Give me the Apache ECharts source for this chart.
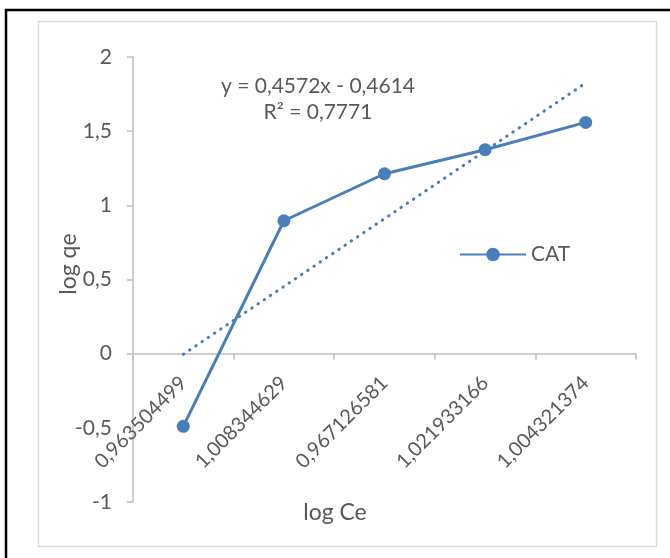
<!DOCTYPE html>
<html>
<head>
<meta charset="utf-8">
<script src="https://cdn.jsdelivr.net/npm/echarts@6/dist/echarts.min.js"></script>
<style>
  html, body { margin: 0; padding: 0; background: #ffffff; }
  #chart { width: 670px; height: 558px; }
</style>
</head>
<body>
<div id="chart"></div>
<script>
// log Ce values (shown as category labels) and measured log qe
const categories = ['0,963504499', '1,008344629', '0,967126581', '1,021933166', '1,004321374'];
const catValues = [-0.49, 0.896, 1.213, 1.375, 1.559];

// Linear trendline as stated in the equation label
const trendSlope = 0.4572;
const trendIntercept = -0.4614;
const trendR2 = 0.7771;

const yMin = -1;
const yMax = 2;
const yStep = 0.5;

const seriesName = 'CAT';
const xTitle = 'log Ce';
const yTitle = 'log qe';

const comma = (v) => String(v).replace('.', ',');
const trendValues = categories.map((c, i) => +(trendSlope * (i + 1) + trendIntercept).toFixed(4));
const eqLine1 = 'y = ' + comma(trendSlope) + 'x - ' + comma(Math.abs(trendIntercept));
const eqLine2 = 'R² = ' + comma(trendR2);

const FONT = 'Lato, "Open Sans", sans-serif';
const TEXT = '#595959';
const AXIS = '#bfbfbf';
const BLUE = '#4a7ebb';

// plot area
const GRID = { left: 133, right: 34, top: 57, bottom: 56 };
const plotHeight = 558 - GRID.top - GRID.bottom;
// lift the category axis (line, ticks, labels) up to the y = 0 level
const xAxisOffset = -plotHeight * (0 - yMin) / (yMax - yMin);

const chart = echarts.init(document.getElementById('chart'), null, { renderer: 'canvas' });

chart.setOption({
  animation: false,
  backgroundColor: '#ffffff',
  textStyle: { fontFamily: FONT },
  grid: Object.assign({ containLabel: false, outerBoundsMode: 'none' }, GRID),
  legend: {
    data: [seriesName],
    left: 454,
    top: 239,
    itemWidth: 66,
    itemHeight: 17,
    itemGap: 15,
    textStyle: { fontFamily: FONT, fontSize: 21, color: TEXT }
  },
  xAxis: {
    type: 'category',
    data: categories,
    boundaryGap: true,
    offset: xAxisOffset,
    axisLine: { onZero: false, lineStyle: { color: AXIS, width: 1.5 } },
    axisTick: { show: true, inside: false, length: 6, lineStyle: { color: AXIS, width: 1.5 } },
    axisLabel: { rotate: 45, fontFamily: FONT, fontSize: 20, color: TEXT, margin: 26 },
    splitLine: { show: false }
  },
  yAxis: {
    type: 'value',
    min: yMin,
    max: yMax,
    interval: yStep,
    axisLine: { show: true, lineStyle: { color: AXIS, width: 1.5 } },
    axisTick: { show: true, inside: false, length: 6, lineStyle: { color: AXIS, width: 1.5 } },
    axisLabel: { fontFamily: FONT, fontSize: 21, color: TEXT, margin: 21, formatter: (v) => comma(v) },
    splitLine: { show: false }
  },
  series: [
    {
      name: seriesName,
      type: 'line',
      data: catValues,
      color: BLUE,
      symbol: 'circle',
      symbolSize: 13,
      lineStyle: { color: BLUE, width: 3 },
      itemStyle: { color: BLUE },
      z: 2
    },
    {
      name: 'trend',
      type: 'line',
      data: trendValues,
      symbol: 'none',
      silent: true,
      lineStyle: { color: BLUE, width: 3, type: [0.5, 7], cap: 'round' },
      z: 3
    }
  ],
  graphic: [
    {
      type: 'rect',
      silent: true,
      shape: { x: 6, y: 10, width: 700, height: 600 },
      style: { fill: 'none', stroke: '#000000', lineWidth: 2.5 }
    },
    {
      type: 'rect',
      silent: true,
      shape: { x: 38.5, y: 21.5, width: 618, height: 525 },
      style: { fill: 'none', stroke: '#d9d9d9', lineWidth: 1.5 }
    },
    {
      type: 'text',
      silent: true,
      x: 318, y: 86,
      style: { text: eqLine1, fontFamily: FONT, fontSize: 21, fill: TEXT, align: 'center', verticalAlign: 'middle' }
    },
    {
      type: 'text',
      silent: true,
      x: 318, y: 112,
      style: { text: eqLine2, fontFamily: FONT, fontSize: 21, fill: TEXT, align: 'center', verticalAlign: 'middle' }
    },
    {
      type: 'text',
      silent: true,
      x: 335, y: 513,
      style: { text: xTitle, fontFamily: FONT, fontSize: 23, fill: TEXT, align: 'center', verticalAlign: 'middle' }
    },
    {
      type: 'text',
      silent: true,
      x: 69, y: 264,
      rotation: Math.PI / 2,
      style: { text: yTitle, fontFamily: FONT, fontSize: 23, fill: TEXT, align: 'center', verticalAlign: 'middle' }
    }
  ]
});
</script>
</body>
</html>
